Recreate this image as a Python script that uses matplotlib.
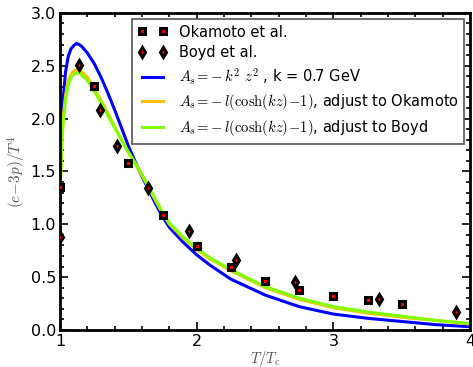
import matplotlib
matplotlib.use("Agg")
import matplotlib.pyplot as plt
from matplotlib.ticker import MultipleLocator

plt.rcParams['mathtext.fontset'] = 'cm'
plt.rcParams['font.family'] = ['DejaVu Sans']

# Okamoto et al. data
oka_x = [1.0, 1.25, 1.5, 1.75, 2.0, 2.25, 2.5, 2.75, 3.0, 3.25, 3.5]
oka_y = [1.35, 2.31, 1.58, 1.085, 0.79, 0.60, 0.46, 0.38, 0.32, 0.28, 0.245]

# Boyd et al. data
boyd_x = [1.0, 1.14, 1.29, 1.42, 1.64, 1.94, 2.29, 2.72, 3.33, 3.90]
boyd_y = [0.88, 2.51, 2.08, 1.74, 1.34, 0.94, 0.66, 0.45, 0.29, 0.17]

# model curves
curve_x = [1.0, 1.01, 1.02, 1.04, 1.06, 1.08, 1.1, 1.12, 1.14, 1.16, 1.2, 1.25, 1.3,
           1.35, 1.4, 1.5, 1.55, 1.6, 1.7, 1.75, 1.8, 1.9, 2.0, 2.1, 2.25,
           2.5, 2.75, 3.0, 3.25, 3.5, 3.75, 4.0]
blue_y = [1.40, 1.90, 2.15, 2.44, 2.59, 2.66, 2.69, 2.71, 2.70, 2.68, 2.62, 2.52, 2.39,
          2.24, 2.08, 1.74, 1.59, 1.45, 1.19, 1.07, 0.97, 0.83, 0.71, 0.61, 0.48,
          0.33, 0.22, 0.15, 0.11, 0.08, 0.05, 0.03]
orange_y = [1.30, 1.72, 1.97, 2.22, 2.36, 2.42, 2.45, 2.46, 2.46, 2.44, 2.39, 2.29, 2.17,
            2.05, 1.92, 1.68, 1.57, 1.46, 1.22, 1.10, 1.00, 0.87, 0.76, 0.67, 0.56,
            0.40, 0.29, 0.21, 0.16, 0.12, 0.09, 0.055]
green_y = [1.25, 1.67, 1.92, 2.18, 2.32, 2.39, 2.42, 2.43, 2.43, 2.41, 2.36, 2.26, 2.15,
           2.03, 1.91, 1.68, 1.58, 1.47, 1.23, 1.11, 1.01, 0.88, 0.77, 0.68, 0.57,
           0.41, 0.30, 0.22, 0.17, 0.13, 0.09, 0.06]

fig = plt.figure(figsize=(4.73, 3.67), dpi=100)
ax = fig.add_axes([0.127, 0.101, 0.867, 0.864])

ax.plot(oka_x, oka_y, 's', ms=4.5, mfc='red', mec='black', mew=2.2, ls='none',
        label='Okamoto et al.', zorder=5)
ax.plot(boyd_x, boyd_y, 'd', ms=5, mfc='red', mec='black', mew=2.2, ls='none',
        label='Boyd et al.', zorder=5)
ax.plot(curve_x, blue_y, color='#0000ff', lw=2.2,
        label=r'$A_s\!=\!-k^2\ z^2$ , k = 0.7 GeV')
ax.plot(curve_x, orange_y, color='#ffbf00', lw=2.2,
        label=r'$A_s\!=\!-l(\cosh(kz)\!-\!1)$, adjust to Okamoto')
ax.plot(curve_x, green_y, color='#80ff00', lw=2.2,
        label=r'$A_s\!=\!-l(\cosh(kz)\!-\!1)$, adjust to Boyd')

ax.set_xlim(1, 4)
ax.set_ylim(0, 3)
ax.xaxis.set_major_locator(MultipleLocator(1))
ax.xaxis.set_minor_locator(MultipleLocator(0.2))
ax.yaxis.set_major_locator(MultipleLocator(0.5))
ax.yaxis.set_minor_locator(MultipleLocator(0.1))
ax.tick_params(which='both', direction='in', top=True, right=True, labelsize=11.5,
               width=1.2, pad=3)
ax.tick_params(which='major', length=6)
ax.tick_params(which='minor', length=3)
for s in ax.spines.values():
    s.set_linewidth(2)

ax.set_xlabel(r'$T/T_c$', fontsize=10.5, color='#555555', labelpad=0)
ax.set_ylabel(r'$(e\!-\!3p)/T^4$', fontsize=11, color='#555555', labelpad=2)

leg = ax.legend(loc='upper right', numpoints=2, fontsize=10.5, fancybox=False,
                framealpha=1, edgecolor='#555555', handlelength=2.0,
                borderaxespad=0.4, labelspacing=0.4)
leg.get_frame().set_linewidth(1.2)

fig.savefig('out.png', dpi=100)
